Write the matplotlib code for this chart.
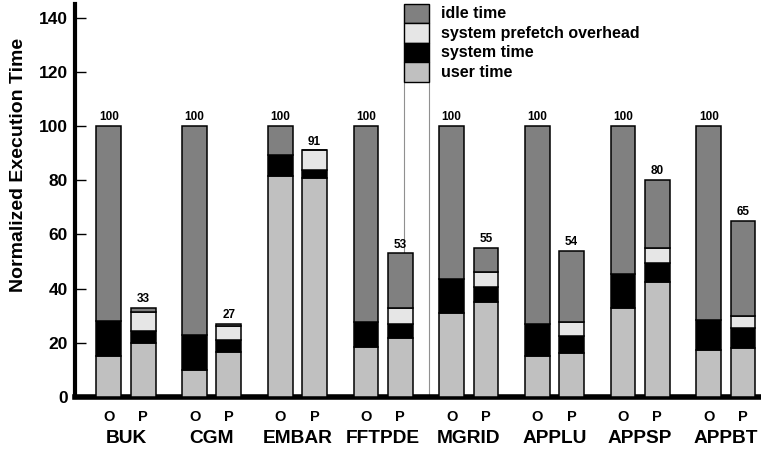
import numpy as np
import matplotlib
matplotlib.use("Agg")
import matplotlib.pyplot as plt
from matplotlib.patches import Rectangle
from matplotlib.transforms import blended_transform_factory

plt.rcParams['font.family'] = ['Liberation Sans', 'DejaVu Sans']
plt.rcParams['font.weight'] = 'bold'

benchmarks = ['BUK', 'CGM', 'EMBAR', 'FFTPDE', 'MGRID', 'APPLU', 'APPSP', 'APPBT']

# original (O) runs
user_o = [15, 10, 81.5, 18.3, 31.0, 15.3, 33.0, 17.3]
sys_o = [13, 13, 7.6, 9.5, 12.7, 11.6, 12.5, 11.2]
pf_o = [0, 0, 0, 0, 0, 0, 0, 0]
idle_o = [72, 77, 10.9, 72.2, 56.3, 73.1, 54.5, 71.5]

# prefetching (P) runs
user_p = [20, 16.7, 80.7, 21.6, 35.2, 16.3, 42.3, 18.1]
sys_p = [4.5, 4.5, 3.0, 5.3, 5.5, 6.3, 7.0, 7.5]
pf_p = [7.0, 5.0, 7.3, 6.0, 5.3, 5.1, 5.5, 4.4]
idle_p = [1.5, 0.8, 0.0, 20.1, 9.0, 26.3, 25.2, 35.0]

layers = ['user time', 'system time', 'system prefetch overhead', 'idle time']
colors = {'user time': '#c0c0c0', 'system time': '#000000',
          'system prefetch overhead': '#e6e6e6', 'idle time': '#808080'}

fig = plt.figure(figsize=(7.61, 4.51), dpi=100)
ax = fig.add_axes([0.0986, 0.1197, 0.9014, 0.8715])

x = np.arange(len(benchmarks))
width = 0.29
off = 0.2

# legend column: white strip running down to the axis
trans = blended_transform_factory(ax.transData, ax.transAxes)
lx, lw = 3.24, 0.30
ax.add_patch(Rectangle((lx, 0), lw, 1, transform=trans, facecolor='white',
                       edgecolor='#909090', linewidth=0.8, zorder=1))

for xs, series in [(x - off, [user_o, sys_o, pf_o, idle_o]),
                   (x + off, [user_p, sys_p, pf_p, idle_p])]:
    bottom = np.zeros(len(benchmarks))
    for name, vals in zip(layers, series):
        vals = np.array(vals, dtype=float)
        ax.bar(xs, vals, width, bottom=bottom, color=colors[name],
               edgecolor='black', linewidth=1.1, zorder=3)
        bottom += vals
    for xi, total in zip(xs, bottom):
        ax.text(xi, total + 1.0, f"{total:.0f}", ha='center', va='bottom',
                fontsize=8.5, fontweight='bold', zorder=4)

# legend entries, top to bottom
ph = 0.0496
for i, name in enumerate(layers[::-1]):
    y0 = 1 - (i + 1) * ph
    ax.add_patch(Rectangle((lx, y0), lw, ph, transform=trans,
                           facecolor=colors[name], edgecolor='black',
                           linewidth=1.0, zorder=5, clip_on=False))
    ax.text(lx + lw + 0.14, y0 + ph / 2, name, transform=trans,
            ha='left', va='center', fontsize=11.5, fontweight='bold', zorder=5)

ax.set_xlim(-0.595, 7.41)
ax.set_ylim(0, 145)
ax.set_yticks(range(0, 141, 20))
ax.tick_params(axis='y', direction='in', length=8, width=1, labelsize=12.5, pad=5)
ax.tick_params(axis='x', length=0, pad=9)
ax.set_xticks(np.concatenate([x - off, x + off]))
ax.set_xticklabels(['O'] * len(x) + ['P'] * len(x), fontsize=10.5, fontweight='bold')
for lab in ax.get_yticklabels():
    lab.set_fontweight('bold')
for xi, name in zip(x, benchmarks):
    ax.text(xi, -0.085, name, transform=trans, ha='center', va='top',
            fontsize=13.8, fontweight='bold')

ax.set_ylabel('Normalized Execution Time', fontsize=14, fontweight='bold')
ax.yaxis.set_label_coords(-0.07, 0.59)

ax.spines['top'].set_visible(False)
ax.spines['right'].set_visible(False)
ax.spines['left'].set_linewidth(3)
ax.spines['bottom'].set_linewidth(4)

fig.savefig('out.png', dpi=100)
